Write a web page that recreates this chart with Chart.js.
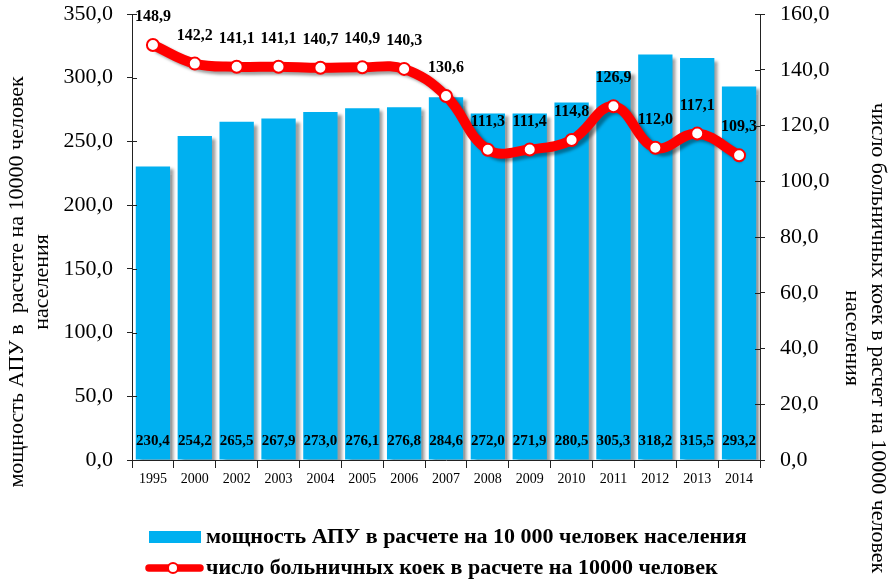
<!DOCTYPE html>
<html><head><meta charset="utf-8">
<script src="https://cdn.jsdelivr.net/npm/chart.js@4"></script>
<style>html,body{margin:0;padding:0;background:#fff}</style>
</head><body>
<canvas id="c" width="893" height="582" style="width:893px;height:582px;display:block"></canvas>
<script>
const years = ['1995','2000','2002','2003','2004','2005','2006','2007','2008','2009','2010','2011','2012','2013','2014'];
const apuCapacity = [230.4,254.2,265.5,267.9,273.0,276.1,276.8,284.6,272.0,271.9,280.5,305.3,318.2,315.5,293.2];
const hospitalBeds = [148.9,142.2,141.1,141.1,140.7,140.9,140.3,130.6,111.3,111.4,114.8,126.9,112.0,117.1,109.3];
const leftAxisMax = 350, leftAxisStep = 50;
const rightAxisMax = 160, rightAxisStep = 20;
const legendLabels = ['мощность АПУ в расчете на 10 000 человек населения','число больничных коек в расчете на 10000 человек'];
const leftTitle = ['мощность АПУ в  расчете на 10000 человек','населения'];
const rightTitle = ['число больничных коек в расчет на 10000 человек','населения'];

const FONT = '"Liberation Serif","Times New Roman",serif';
const fmt = v => v.toFixed(1).replace('.', ',');
const AXIS = '#222';
const BLUE = '#00B0F0', RED = '#FF0000';
const LEG_PAD = 9, LEG_FONT = 22, LEG_BOX = 46;

const shadowPlugin = {
  id: 'shadow',
  beforeDatasetDraw(chart, args) {
    const ctx = chart.ctx; ctx.save();
    if (args.index < 2) {
      ctx.shadowColor = 'rgba(0,0,0,0.38)';
      ctx.shadowOffsetX = 4; ctx.shadowOffsetY = 3; ctx.shadowBlur = 3;
    }
  },
  afterDatasetDraw(chart) { chart.ctx.restore(); }
};

const labelPlugin = {
  id: 'labels',
  afterDatasetsDraw(chart) {
    const ctx = chart.ctx; ctx.save();
    ctx.fillStyle = '#000'; ctx.textAlign = 'center'; ctx.textBaseline = 'middle';
    ctx.font = 'bold 15px ' + FONT;
    chart.getDatasetMeta(0).data.forEach((el, i) => ctx.fillText(fmt(apuCapacity[i]), el.x, chart.chartArea.bottom - 19));
    ctx.font = 'bold 16px ' + FONT;
    chart.getDatasetMeta(2).data.forEach((el, i) => ctx.fillText(fmt(hospitalBeds[i]), el.x, el.y - 28));
    ctx.restore();
  }
};

const axisPlugin = {
  id: 'axisExtras',
  afterLayout(chart) { chart.legend.left = 149 - LEG_PAD; },
  afterDraw(chart) {
    const ctx = chart.ctx; ctx.save();
    ctx.strokeStyle = AXIS; ctx.lineWidth = 1;
    const yl = chart.scales.y, yr = chart.scales.y1;
    ctx.beginPath();
    yl.ticks.forEach(t => { const p = Math.round(yl.getPixelForValue(t.value)) + 0.5; ctx.moveTo(yl.right, p); ctx.lineTo(yl.right + 5, p); });
    yr.ticks.forEach(t => { const p = Math.round(yr.getPixelForValue(t.value)) + 0.5; ctx.moveTo(yr.left - 5, p); ctx.lineTo(yr.left, p); });
    ctx.stroke();
    // axis titles
    ctx.fillStyle = '#000'; ctx.textAlign = 'center'; ctx.textBaseline = 'middle';
    ctx.font = '22px ' + FONT;
    ctx.save(); ctx.translate(17, 282); ctx.rotate(-Math.PI / 2); ctx.fillText(leftTitle[0], 0, 0); ctx.restore();
    ctx.save(); ctx.translate(42, 282); ctx.rotate(-Math.PI / 2); ctx.fillText(leftTitle[1], 0, 0); ctx.restore();
    ctx.save(); ctx.translate(878, 338); ctx.rotate(Math.PI / 2); ctx.fillText(rightTitle[0], 0, 0); ctx.restore();
    ctx.save(); ctx.translate(852, 338); ctx.rotate(Math.PI / 2); ctx.fillText(rightTitle[1], 0, 0); ctx.restore();
    // legend markers
    const lg = chart.legend;
    const x0 = lg.left + LEG_PAD;
    const row0 = lg.top + LEG_PAD + LEG_FONT / 2;
    const row1 = row0 + LEG_FONT + LEG_PAD;
    ctx.fillStyle = BLUE;
    ctx.fillRect(x0, row0 - 6, 52, 12);
    ctx.strokeStyle = RED; ctx.lineWidth = 7.5; ctx.lineCap = 'round';
    ctx.beginPath(); ctx.moveTo(x0, row1); ctx.lineTo(x0 + 51, row1); ctx.stroke();
    ctx.fillStyle = '#fff'; ctx.lineWidth = 2;
    ctx.beginPath(); ctx.arc(x0 + 24, row1, 5, 0, Math.PI * 2); ctx.fill(); ctx.stroke();
    ctx.restore();
  }
};

const legendHeight = {
  id: 'legendHeight',
  beforeInit(chart) {
    const fit = chart.legend.fit;
    chart.legend.fit = function () { fit.call(this); this.height = 65; };
  }
};

const noPad = s => { s.paddingTop = 0; s.paddingBottom = 0; };

new Chart(document.getElementById('c'), {
  data: {
    labels: years,
    datasets: [
      { type: 'bar', label: legendLabels[0], data: apuCapacity, yAxisID: 'y',
        backgroundColor: BLUE, borderWidth: 0, categoryPercentage: 1, barPercentage: 0.82, order: 3 },
      { type: 'line', label: legendLabels[1], data: hospitalBeds, yAxisID: 'y1',
        borderColor: RED, backgroundColor: RED, borderWidth: 10, tension: 0.4,
        pointRadius: 0, order: 2 },
      { type: 'line', label: 'points', data: hospitalBeds, yAxisID: 'y1', showLine: false,
        pointRadius: 6, pointBorderWidth: 2, pointBackgroundColor: '#FFFFFF', pointBorderColor: RED, order: 1 }
    ]
  },
  options: {
    responsive: false, animation: false,
    layout: { padding: { top: 14, left: 0, right: 0, bottom: 0 } },
    plugins: {
      tooltip: { enabled: false },
      legend: {
        position: 'bottom', align: 'start',
        labels: {
          font: { family: FONT, size: LEG_FONT, weight: 'bold' }, color: '#000',
          boxWidth: LEG_BOX, boxHeight: 12, padding: LEG_PAD,
          generateLabels: () => [
            { text: legendLabels[0], fillStyle: 'rgba(0,0,0,0)', strokeStyle: 'rgba(0,0,0,0)', lineWidth: 0, datasetIndex: 0 },
            { text: legendLabels[1], fillStyle: 'rgba(0,0,0,0)', strokeStyle: 'rgba(0,0,0,0)', lineWidth: 0, datasetIndex: 1 }
          ]
        }
      }
    },
    scales: {
      x: {
        grid: { display: true, drawOnChartArea: false, offset: true, color: AXIS, tickLength: 8 },
        border: { display: true, color: AXIS },
        ticks: { font: { family: FONT, size: 14 }, color: '#000', padding: 3, maxRotation: 0, autoSkip: false },
        afterFit: s => { s.height = 57; s.paddingLeft = 0; s.paddingRight = 0; }
      },
      y: {
        position: 'left', min: 0, max: leftAxisMax,
        grid: { display: true, drawOnChartArea: false, color: AXIS, tickLength: 5 },
        border: { display: true, color: AXIS },
        ticks: { stepSize: leftAxisStep, font: { family: FONT, size: 22 }, color: '#000', padding: 14, callback: v => fmt(v) },
        afterFit: s => { s.width = 132; noPad(s); }
      },
      y1: {
        position: 'right', min: 0, max: rightAxisMax,
        grid: { display: true, drawOnChartArea: false, color: AXIS, tickLength: 5 },
        border: { display: true, color: AXIS },
        ticks: { stepSize: rightAxisStep, font: { family: FONT, size: 22 }, color: '#000', padding: 15, callback: v => fmt(v) },
        afterFit: s => { s.width = 133; noPad(s); }
      }
    }
  },
  plugins: [legendHeight, shadowPlugin, labelPlugin, axisPlugin]
});
</script>
</body></html>
